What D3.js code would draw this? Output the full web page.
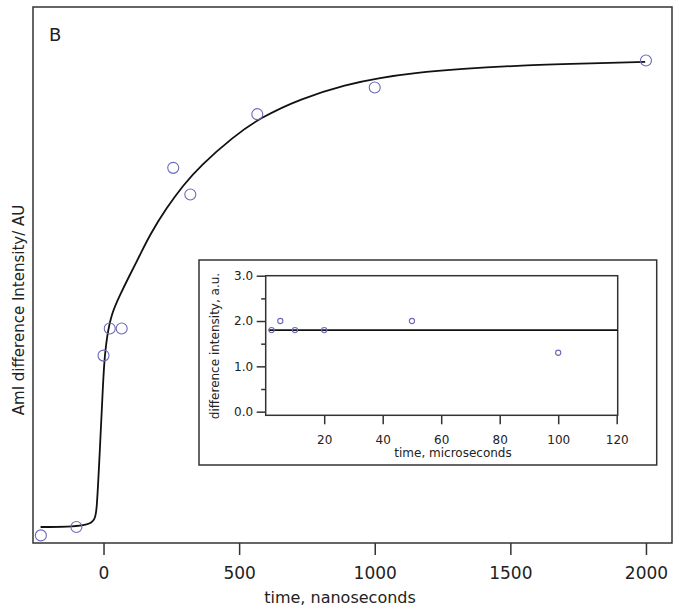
<!DOCTYPE html>
<meta charset="utf-8">
<style>
body { margin: 0; background: #fff; }
text { font-family: "DejaVu Sans", Verdana, sans-serif; fill: #222; }
.frame { fill: none; stroke: #333; stroke-width: 1.5px; }
.axis line { stroke: #333; stroke-width: 1.5px; }
.axis path { display: none; }
.fit { fill: none; stroke: #111; stroke-width: 1.8px; }
.pt { fill: none; stroke: #6a6ab8; stroke-width: 1.1px; }
</style>
<svg width="679" height="610"></svg>
<script src="https://d3js.org/d3.v7.min.js"></script>
<script>

// main panel: measured points (time ns, intensity AU)
var timeNs = [-231, -100, 0, 23, 67, 257, 320, 567, 1000, 2000];
var intensity = [-0.018, 0.0, 0.367, 0.425, 0.425, 0.769, 0.712, 0.884, 0.941, 0.999];

// fitted curve
var fitT = [-232, -35, -25, -13, -4, 2, 12, 30, 61, 91, 135, 171, 233, 294, 356, 479, 577, 725, 897, 1020, 1142, 1315, 1560, 1806, 1997];
var fitY = [0, 0, 0.029, 0.172, 0.279, 0.351, 0.407, 0.458, 0.497, 0.533, 0.583, 0.626, 0.684, 0.732, 0.773, 0.836, 0.876, 0.917, 0.948, 0.962, 0.972, 0.981, 0.989, 0.993, 0.996];

var xTicks = [0, 500, 1000, 1500, 2000];

// inset: microsecond data
var insetT = [2, 5, 10, 20, 50, 100];
var insetY = [1.8, 2.0, 1.8, 1.8, 2.0, 1.3];
var insetFitT = [1, 120.3];
var insetFitY = [1.8, 1.8];
var insetXTicks = [20, 40, 60, 80, 100, 120];
var insetYTicks = [0, 1, 2, 3];
var insetYMinor = [0.5, 1.5, 2.5];

var svg = d3.select("svg");

// ---- main plot
var x = d3.scaleLinear().domain([-260, 2096]).range([33, 672]);
var y = d3.scaleLinear().domain([-0.0343, 1.1135]).range([543, 7]);

svg.append("rect").attr("class", "frame")
  .attr("x", 33).attr("y", 7).attr("width", 639).attr("height", 536);

svg.append("g").attr("class", "axis")
  .attr("transform", "translate(0,543)")
  .call(d3.axisBottom(x).tickValues(xTicks).tickSize(12).tickPadding(12).tickFormat(d3.format("d")))
  .selectAll("text").style("font-size", "17px").attr("fill", "#222");

svg.append("text").attr("x", 340).attr("y", 603)
  .attr("text-anchor", "middle").style("font-size", "16px")
  .text("time, nanoseconds");

svg.append("text")
  .attr("transform", "translate(24,310) rotate(-90)")
  .attr("text-anchor", "middle").style("font-size", "15px")
  .text("AmI difference Intensity/ AU");

svg.append("text").attr("x", 49).attr("y", 41).style("font-size", "18px").text("B");

var line = d3.line().x(function(d) { return x(d[0]); }).y(function(d) { return y(d[1]); })
  .curve(d3.curveBasis);

svg.append("path").attr("class", "fit")
  .attr("d", line(d3.zip(fitT, fitY)));

svg.append("g").selectAll("circle")
  .data(d3.zip(timeNs, intensity))
  .enter().append("circle").attr("class", "pt")
  .attr("r", 5.5)
  .attr("cx", function(d) { return x(d[0]); })
  .attr("cy", function(d) { return y(d[1]); });

// ---- inset
svg.append("rect").attr("x", 199).attr("y", 260).attr("width", 457.7).attr("height", 205)
  .attr("fill", "#fff").attr("class", "frame");

var xi = d3.scaleLinear().domain([0, 120.34]).range([265.7, 617.7]);
var yi = d3.scaleLinear().domain([-0.08, 3.0]).range([415.3, 275.7]);

svg.append("rect").attr("class", "frame")
  .attr("x", 265.7).attr("y", 275.7).attr("width", 352).attr("height", 139.6);

svg.append("g").attr("class", "axis")
  .attr("transform", "translate(0,415.3)")
  .call(d3.axisBottom(xi).tickValues(insetXTicks).tickSize(9).tickPadding(11.5).tickFormat(d3.format("d")))
  .selectAll("text").style("font-size", "12px").attr("fill", "#222");

svg.append("g").attr("class", "axis")
  .attr("transform", "translate(265.7,0)")
  .call(d3.axisLeft(yi).tickValues(insetYTicks).tickSize(9).tickPadding(3.5).tickFormat(d3.format(".1f")))
  .selectAll("text").style("font-size", "12px").attr("fill", "#222");

svg.append("g").attr("class", "axis")
  .attr("transform", "translate(265.7,0)")
  .call(d3.axisLeft(yi).tickValues(insetYMinor).tickSize(4.5).tickFormat(""));

svg.append("text").attr("x", 453).attr("y", 457)
  .attr("text-anchor", "middle").style("font-size", "12px")
  .text("time, microseconds");

svg.append("text")
  .attr("transform", "translate(219,346) rotate(-90)")
  .attr("text-anchor", "middle").style("font-size", "12px")
  .text("difference intensity, a.u.");

var linei = d3.line().x(function(d) { return xi(d[0]); }).y(function(d) { return yi(d[1]); });
svg.append("path").attr("class", "fit").attr("stroke-width", 1.5)
  .attr("d", linei(d3.zip(insetFitT, insetFitY)));

svg.append("g").selectAll("circle")
  .data(d3.zip(insetT, insetY))
  .enter().append("circle").attr("class", "pt")
  .attr("r", 2.6)
  .attr("cx", function(d) { return xi(d[0]); })
  .attr("cy", function(d) { return yi(d[1]); });

</script>
